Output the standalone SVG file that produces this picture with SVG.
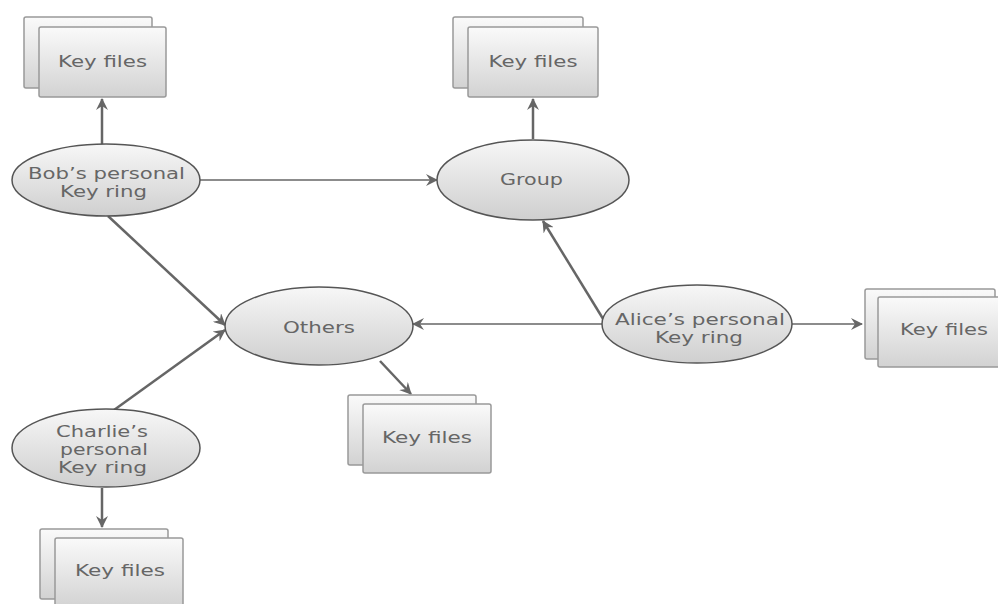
<svg xmlns="http://www.w3.org/2000/svg" width="998" height="604" viewBox="0 0 998 604">
<defs>
<linearGradient id="gE" x1="0" y1="0" x2="0" y2="1"><stop offset="0" stop-color="#f7f7f7"/><stop offset="1" stop-color="#cfcfcf"/></linearGradient>
<linearGradient id="gR" x1="0" y1="0" x2="0" y2="1"><stop offset="0" stop-color="#fafafa"/><stop offset="1" stop-color="#d2d2d2"/></linearGradient>
<marker id="ah" viewBox="0 0 12 12" refX="11" refY="6" markerWidth="12" markerHeight="12" markerUnits="userSpaceOnUse" orient="auto"><path d="M0,0 L12,6 L0,12 L4,6 Z" fill="#666"/></marker>
</defs>
<style>
.ell{fill:url(#gE);stroke:#555;stroke-width:1.5}
.r{fill:url(#gR);stroke:#999;stroke-width:1.5}
.t{font-family:"DejaVu Sans",Verdana,sans-serif;font-size:15.5px;fill:#666;text-anchor:middle}
.c{stroke:#666;stroke-width:2.5;fill:none;marker-end:url(#ah)}
</style>
<rect width="998" height="604" fill="#fff"/>
<g id="connectors">
<line class="c" x1="102" y1="145" x2="102" y2="99"/>
<line class="c" style="stroke-width:1.6" x1="200" y1="180" x2="437" y2="180"/>
<line class="c" x1="533" y1="139" x2="533" y2="99"/>
<line class="c" x1="108" y1="216" x2="225" y2="325"/>
<line class="c" x1="114" y1="410" x2="225" y2="330"/>
<line class="c" x1="605" y1="322" x2="543" y2="221"/>
<line class="c" style="stroke-width:1.6" x1="603" y1="324" x2="413" y2="324"/>
<line class="c" style="stroke-width:1.6" x1="792" y1="324" x2="862" y2="324"/>
<line class="c" x1="380" y1="361" x2="411" y2="394"/>
<line class="c" x1="102" y1="488" x2="102" y2="527"/>
</g>
<g id="bob-files">
<rect class="r" x="24" y="17" width="128" height="71" rx="2"/>
<rect class="r" x="39" y="27" width="127" height="70" rx="2"/>
<text class="t" x="102.5" y="67" textLength="89" lengthAdjust="spacingAndGlyphs">Key files</text>
</g>
<g id="group-files">
<rect class="r" x="453" y="17" width="130" height="71" rx="2"/>
<rect class="r" x="468" y="27" width="130" height="70" rx="2"/>
<text class="t" x="533" y="67" textLength="89" lengthAdjust="spacingAndGlyphs">Key files</text>
</g>
<g id="bob">
<ellipse class="ell" cx="106" cy="180" rx="94" ry="36"/>
<text class="t" x="106.5" y="179" textLength="157" lengthAdjust="spacingAndGlyphs">Bob’s personal</text>
<text class="t" x="103.5" y="197" textLength="87" lengthAdjust="spacingAndGlyphs">Key ring</text>
</g>
<g id="group">
<ellipse class="ell" cx="533" cy="180" rx="96" ry="40"/>
<text class="t" x="531.5" y="185" textLength="63" lengthAdjust="spacingAndGlyphs">Group</text>
</g>
<g id="others">
<ellipse class="ell" cx="319" cy="326" rx="94" ry="39"/>
<text class="t" x="319" y="333" textLength="72" lengthAdjust="spacingAndGlyphs">Others</text>
</g>
<g id="alice">
<ellipse class="ell" cx="697" cy="324" rx="95" ry="39"/>
<text class="t" x="700" y="325" textLength="170" lengthAdjust="spacingAndGlyphs">Alice’s personal</text>
<text class="t" x="699" y="343" textLength="88" lengthAdjust="spacingAndGlyphs">Key ring</text>
</g>
<g id="alice-files">
<rect class="r" x="865" y="289" width="130" height="70" rx="2"/>
<rect class="r" x="878" y="297" width="130" height="70" rx="2"/>
<text class="t" x="944" y="335" textLength="88" lengthAdjust="spacingAndGlyphs">Key files</text>
</g>
<g id="others-files">
<rect class="r" x="348" y="395" width="128" height="70" rx="2"/>
<rect class="r" x="363" y="404" width="128" height="69" rx="2"/>
<text class="t" x="427" y="443" textLength="90" lengthAdjust="spacingAndGlyphs">Key files</text>
</g>
<g id="charlie">
<ellipse class="ell" cx="106" cy="448" rx="94" ry="39"/>
<text class="t" x="102" y="437" textLength="92" lengthAdjust="spacingAndGlyphs">Charlie’s</text>
<text class="t" x="104" y="455" textLength="88" lengthAdjust="spacingAndGlyphs">personal</text>
<text class="t" x="102.5" y="473" textLength="89" lengthAdjust="spacingAndGlyphs">Key ring</text>
</g>
<g id="charlie-files">
<rect class="r" x="40" y="529" width="128" height="70" rx="2"/>
<rect class="r" x="55" y="538" width="128" height="70" rx="2"/>
<text class="t" x="120" y="576" textLength="90" lengthAdjust="spacingAndGlyphs">Key files</text>
</g>
</svg>
